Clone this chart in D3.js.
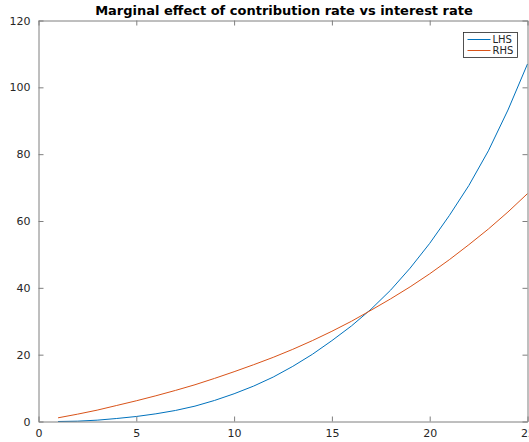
<!DOCTYPE html>
<html>
<head>
<meta charset="utf-8">
<script src="https://cdn.jsdelivr.net/npm/d3@7"></script>
<style>
  body { margin: 0; background: #fff; }
  svg { display: block; font-family: "DejaVu Sans", sans-serif; }
</style>
</head>
<body>
<div id="chart"></div>
<script>
// values, one point per year
var years = d3.range(1, 26);
var lhs = [0.0, 0.1, 0.4, 0.9, 1.5, 2.3, 3.3, 4.6, 6.3, 8.3, 10.6, 13.3, 16.5, 20.1, 24.2, 28.6, 33.6, 39.3, 45.9, 53.3, 61.6, 70.6, 81.0, 93.2, 107.0];
var rhs = [1.1, 2.2, 3.4, 4.8, 6.2, 7.7, 9.3, 11.0, 12.9, 14.9, 17.0, 19.2, 21.6, 24.2, 27.0, 30.0, 33.3, 36.7, 40.3, 44.2, 48.4, 52.9, 57.6, 62.7, 68.2];
var xTicks = [0, 5, 10, 15, 20, 25];
var yTicks = [0, 20, 40, 60, 80, 100, 120];
var seriesNames = ["LHS", "RHS"];
var seriesColors = ["#0072BD", "#D95319"];

var W = 529, H = 442;
// plot box (note: "top" would clash with window.top)
var box = { left: 38.5, right: 527.5, top: 20.5, bottom: 421.5 };
var axisColor = "#7f7f7f", textColor = "#262626";

var svg = d3.select("#chart").append("svg")
    .attr("width", W).attr("height", H);

var x = d3.scaleLinear().domain([0, 25]).range([box.left, box.right]);
var y = d3.scaleLinear().domain([0, 120]).range([box.bottom, box.top]);

// lines
var line = d3.line()
    .x(function(d, i) { return x(years[i]); })
    .y(function(d) { return y(d); });

[lhs, rhs].forEach(function(s, k) {
    svg.append("path")
        .datum(s)
        .attr("d", line)
        .attr("fill", "none")
        .attr("stroke", seriesColors[k])
        .attr("stroke-width", 1);
});

// box round the axes, ticks pointing inwards on all four sides
function styleAxis(g) {
    g.attr("font-family", null);
    g.select(".domain").attr("stroke", axisColor);
    g.selectAll(".tick line").attr("stroke", axisColor);
    g.selectAll(".tick text").attr("fill", textColor).attr("font-size", "11px");
}

svg.append("g")
    .attr("transform", "translate(0," + box.bottom + ")")
    .call(d3.axisBottom(x).tickValues(xTicks).tickSize(-5).tickSizeOuter(0).tickPadding(8))
    .call(styleAxis);

svg.append("g")
    .attr("transform", "translate(0," + box.top + ")")
    .call(d3.axisTop(x).tickValues(xTicks).tickSize(-5).tickSizeOuter(0).tickFormat(""))
    .call(styleAxis);

svg.append("g")
    .attr("transform", "translate(" + box.left + ",0)")
    .call(d3.axisLeft(y).tickValues(yTicks).tickSize(-5).tickSizeOuter(0).tickPadding(8))
    .call(styleAxis);

svg.append("g")
    .attr("transform", "translate(" + box.right + ",0)")
    .call(d3.axisRight(y).tickValues(yTicks).tickSize(-5).tickSizeOuter(0).tickFormat(""))
    .call(styleAxis);

// title
svg.append("text")
    .attr("x", (box.left + box.right) / 2 + 1)
    .attr("y", 15)
    .attr("text-anchor", "middle")
    .attr("font-size", "13px")
    .attr("font-weight", "bold")
    .attr("fill", "#000")
    .text("Marginal effect of contribution rate vs interest rate");

// legend
var legend = svg.append("g").attr("transform", "translate(463.5,32.5)");
legend.append("rect")
    .attr("width", 54).attr("height", 25)
    .attr("fill", "#fff").attr("stroke", "#262626").attr("stroke-width", 0.8);
seriesNames.forEach(function(n, k) {
    var ly = 7 + k * 11;
    legend.append("line")
        .attr("x1", 4).attr("x2", 27).attr("y1", ly).attr("y2", ly)
        .attr("stroke", seriesColors[k]);
    legend.append("text")
        .attr("x", 29).attr("y", ly + 3.5)
        .attr("font-size", "10px").attr("fill", textColor)
        .text(n);
});
</script>
</body>
</html>
